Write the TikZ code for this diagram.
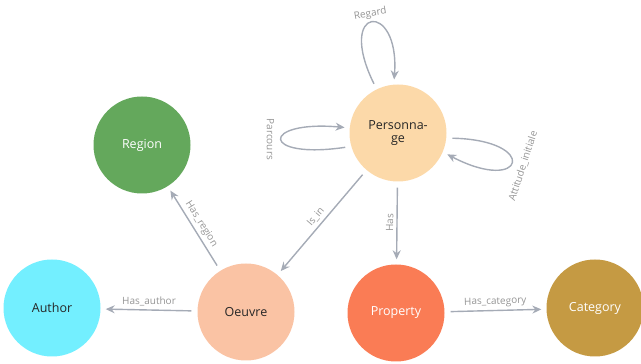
\documentclass[tikz,border=0pt]{standalone}
\usepackage{fontspec}
\setmainfont{Open Sans}
\usetikzlibrary{arrows.meta}
\definecolor{persfill}{HTML}{FCD9A9}
\definecolor{regionfill}{HTML}{64A85C}
\definecolor{authorfill}{HTML}{73EFFF}
\definecolor{oeuvrefill}{HTML}{FAC3A4}
\definecolor{propfill}{HTML}{FA7C55}
\definecolor{catfill}{HTML}{C59A43}
\definecolor{edgegrey}{HTML}{A5ABB6}
\definecolor{labelgrey}{HTML}{959595}
\begin{document}
\begin{tikzpicture}[x=1pt, y=1pt,
	entity/.style={circle, minimum size=97pt, inner sep=0pt, font=\fontsize{12.5}{13}\selectfont, align=center, text=black!85},
	rel/.style={draw=edgegrey, line width=1.4pt, -{Stealth[length=9pt, width=8pt]}, shorten <=6pt, shorten >=5pt},
	rellabel/.style={text=labelgrey, font=\fontsize{10}{11}\selectfont, inner sep=3pt}]
	\useasboundingbox (0,0) rectangle (641,364);
	\node [entity, fill=persfill] (pers) at (398,231) {Personna-\\ge};
	\node [entity, fill=regionfill, text=white] (region) at (142,219) {Region};
	\node [entity, fill=authorfill] (author) at (52,56) {Author};
	\node [entity, fill=oeuvrefill] (oeuvre) at (246,52) {Oeuvre};
	\node [entity, fill=propfill, text=white] (prop) at (396,51) {Property};
	\node [entity, fill=catfill, text=white] (cat) at (595,56) {Category};
	\draw [rel] (pers) -- (oeuvre) node [rellabel, midway, sloped, above] {Is\_in};
	\draw [rel] (pers) -- (prop) node [rellabel, midway, sloped, above] {Has};
	\draw [rel] (oeuvre) -- (region) node [rellabel, midway, sloped, above] {Has\_region};
	\draw [rel] (oeuvre) -- (author) node [rellabel, midway, above] {Has\_author};
	\draw [rel] (prop) -- (cat) node [rellabel, midway, sloped, above] {Has\_category};
	% loops on Personnage
	\draw [rel] (pers.116) .. controls (335,359) and (400,364) .. (pers.95)
		node [rellabel, pos=0.5, rotate=10, above=1pt] {Regard};
	\draw [rel] (pers.196) .. controls (260,204) and (260,244) .. (pers.174)
		node [rellabel, pos=0.5, rotate=-90, below=5pt] {Parcours};
	\draw [rel] (pers.-6) .. controls (540,224) and (525,169) .. (pers.-23)
		node [rellabel, pos=0.5, rotate=72, below=5pt] {Attitude\_initiale};
\end{tikzpicture}
\end{document}
